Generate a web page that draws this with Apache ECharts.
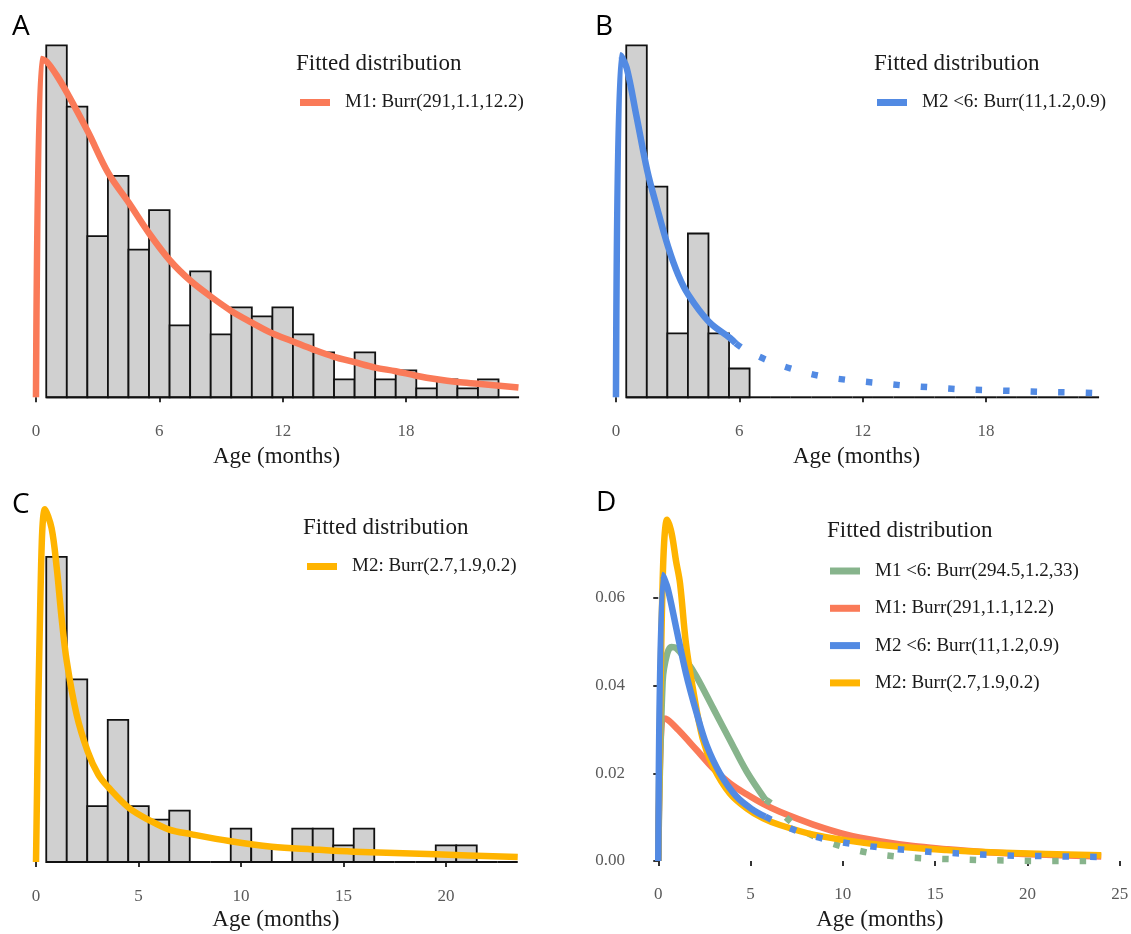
<!DOCTYPE html>
<html>
<head>
<meta charset="utf-8">
<script src="https://cdn.jsdelivr.net/npm/echarts@6/dist/echarts.min.js"></script>
<style>
  html, body { margin: 0; padding: 0; background: #fff; }
  #chart { width: 1131px; height: 934px; }
</style>
</head>
<body>
<div id="chart"></div>
<script>
// histogram bins (months), 1 month wide
const binStart = [0.5, 1.5, 2.5, 3.5, 4.5, 5.5, 6.5, 7.5, 8.5, 9.5, 10.5, 11.5,
  12.5, 13.5, 14.5, 15.5, 16.5, 17.5, 18.5, 19.5, 20.5, 21.5, 22.5];
const binWidth = 1;

// bar heights (relative units, no y axis shown)
const histA = [39.1, 32.3, 17.9, 24.6, 16.4, 20.8, 8.0, 14.0, 7.0, 10.0, 9.0, 10.0,
  7.0, 5.0, 2.0, 5.0, 2.0, 3.0, 1.0, 2.0, 1.0, 2.0, 0];
const histB = [39.1, 23.4, 7.1, 18.2, 7.1, 3.2, 0, 0, 0, 0, 0, 0,
  0, 0, 0, 0, 0, 0, 0, 0, 0, 0, 0];
const histC = [33.9, 20.3, 6.2, 15.8, 6.2, 4.7, 5.7, 0, 0, 3.7, 1.85, 0,
  3.7, 3.7, 1.85, 3.7, 0, 0, 0, 1.85, 1.85, 0, 0];

// fitted curves drawn over the histograms
const ageA = [0, 0.26, 0.52, 1.0, 1.52, 2.53, 3.52, 4.52, 5.51, 6.52, 7.49, 8.5, 9.5, 10.5,
  11.5, 12.5, 13.5, 14.5, 15.5, 16.5, 17.5, 18.5, 19.5, 20.5, 21.5, 23.47];
const fitA = [0, 37.6, 37.3, 35.8, 33.8, 29.5, 24.9, 21.6, 18.2, 15.2, 13.0, 11.2, 9.6, 8.3,
  7.1, 6.2, 5.3, 4.5, 3.9, 3.3, 2.9, 2.4, 2.0, 1.7, 1.5, 1.1];

const ageB = [0, 0.23, 0.52, 1.0, 1.52, 1.98, 2.54, 3.03, 3.52, 4.52, 5.54, 5.82];
const fitB = [0, 38.0, 36.6, 31.2, 25.2, 21.2, 16.7, 13.6, 11.4, 8.4, 6.6, 6.0];
const ageBTail = [5.82, 6.27, 7.49, 8.79, 10.08, 11.38, 12.71, 14.06, 15.38, 16.7, 18.03,
  19.37, 20.73, 22.08, 23.46];
const fitBTail = [6.0, 5.3, 4.0, 3.0, 2.3, 1.9, 1.6, 1.3, 1.1, 0.9, 0.8, 0.7, 0.6, 0.55, 0.45];

const ageC = [0, 0.22, 0.44, 0.76, 1.01, 1.25, 1.5, 1.98, 2.52, 3.04, 3.53, 4.54, 5.56, 6.5,
  7.55, 9.5, 11.5, 13.5, 15.5, 19.5, 23.5];
const fitC = [0, 30.0, 39.2, 37.1, 32.7, 27.1, 22.3, 16.4, 12.3, 9.7, 8.3, 6.0, 4.6, 3.6,
  3.1, 2.3, 1.7, 1.4, 1.15, 0.85, 0.55];

// panel D: densities
const ageM1lt6 = [0, 0.24, 0.48, 0.72, 0.96, 1.5, 2.08, 2.98, 3.88, 4.79, 5.8];
const densM1lt6 = [0, 0.041, 0.0472, 0.0488, 0.0486, 0.0458, 0.042, 0.0348, 0.0276, 0.0204, 0.014];
const ageM1lt6Tail = [5.8, 6.23, 7.4, 8.67, 10.05, 11.5, 12.97, 14.46, 15.98, 17.47, 18.96,
  20.46, 21.94, 23.39, 24];
const densM1lt6Tail = [0.014, 0.0128, 0.0082, 0.0052, 0.0032, 0.0018, 0.001, 0.0006, 0.0004,
  0.0002, 0.0001, 0, 0, 0, 0];

const ageM1 = [0, 0.24, 0.48, 1.08, 2.08, 2.98, 3.88, 4.79, 5.69, 6.59, 8.4, 10.2, 12.0,
  13.8, 15.6, 17.4, 19.2, 21.0, 24];
const densM1 = [0, 0.0325, 0.0323, 0.0299, 0.0253, 0.0211, 0.0177, 0.0152, 0.013, 0.0112,
  0.0083, 0.006, 0.0045, 0.0034, 0.0027, 0.0021, 0.0017, 0.0014, 0.001];

const ageM2lt6 = [0, 0.24, 0.51, 0.96, 1.5, 2.08, 2.62, 3.34, 4.24, 5.15, 5.8];
const densM2lt6 = [0, 0.0652, 0.0622, 0.0534, 0.0428, 0.0337, 0.0264, 0.02, 0.0147, 0.0116, 0.0101];
const ageM2lt6Tail = [5.8, 6.23, 7.59, 9.03, 10.48, 11.97, 13.45, 14.94, 16.43, 17.93, 19.41,
  20.9, 22.38, 24];
const densM2lt6Tail = [0.0101, 0.0092, 0.0067, 0.005, 0.0039, 0.0031, 0.0025, 0.002, 0.0017,
  0.0014, 0.0012, 0.0011, 0.001, 0.0009];

const ageM2 = [0, 0.24, 0.48, 0.72, 0.96, 1.18, 1.5, 1.86, 2.4, 2.98, 3.88, 4.79, 5.69, 6.59,
  8.4, 10.2, 12.0, 13.8, 15.6, 17.4, 19.2, 21.0, 24];
const densM2 = [0, 0.064, 0.0778, 0.0748, 0.0685, 0.0633, 0.0496, 0.0397, 0.028, 0.0215, 0.0154,
  0.012, 0.0097, 0.0082, 0.006, 0.0047, 0.0037, 0.003, 0.0025, 0.0021, 0.0018, 0.0016, 0.0013];

const ticksAB = [0, 6, 12, 18];
const ticksC = [0, 5, 10, 15, 20];
const ticksDx = [0, 5, 10, 15, 20, 25];
const ticksDy = [0, 0.02, 0.04, 0.06];

const nameM1 = 'M1: Burr(291,1.1,12.2)';
const nameM1lt6 = 'M1 <6: Burr(294.5,1.2,33)';
const nameM2lt6 = 'M2 <6: Burr(11,1.2,0.9)';
const nameM2 = 'M2: Burr(2.7,1.9,0.2)';

const RED = '#FA7A58';
const BLUE = '#528AE3';
const GOLD = '#FFB400';
const GREEN = '#87B48C';

const serif = "'Liberation Serif', 'DejaVu Serif', serif";
const sans = "'Open Sans', 'Noto Sans', sans-serif";

const zip = (xs, ys) => xs.map((x, i) => [x, ys[i]]);

// one bin: grey box plus its piece of the baseline (also drawn for empty bins)
function renderBin(params, api) {
  const a = api.coord([api.value(0), 0]);
  const b = api.coord([api.value(1), api.value(2)]);
  const children = [];
  if (api.value(2) > 0) {
    children.push({
      type: 'rect',
      shape: { x: a[0], y: b[1], width: b[0] - a[0], height: a[1] - b[1] },
      style: { fill: '#D0D0D0', stroke: '#111', lineWidth: 1.8 }
    });
  }
  children.push({
    type: 'line',
    shape: { x1: a[0], y1: a[1], x2: b[0], y2: a[1] },
    style: { stroke: '#111', lineWidth: 2 }
  });
  return { type: 'group', children: children };
}

function histSeries(idx, hist) {
  return {
    type: 'custom',
    xAxisIndex: idx, yAxisIndex: idx,
    renderItem: renderBin,
    encode: { x: [0, 1], y: 2 },
    data: binStart.map((s, i) => [s, s + binWidth, hist[i]]),
    silent: true
  };
}

function curve(idx, name, color, xs, ys, dotted) {
  return {
    type: 'line',
    name: name,
    xAxisIndex: idx, yAxisIndex: idx,
    data: zip(xs, ys),
    showSymbol: false,
    smooth: 0.35,
    itemStyle: { color: color },
    lineStyle: {
      color: color, width: 6.5, cap: 'butt', join: 'round',
      type: dotted ? [6.5, 21] : 'solid'
    },
    silent: true
  };
}

function xAxisOf(idx, min, max, ticks, gap) {
  return {
    type: 'value', gridIndex: idx, min: min, max: max,
    name: 'Age (months)', nameLocation: 'middle', nameGap: gap,
    nameTextStyle: { fontFamily: serif, fontSize: 23, color: '#1a1a1a' },
    axisLine: { show: false },
    splitLine: { show: false },
    axisTick: { show: true, length: 5, customValues: ticks, lineStyle: { color: '#333', width: 2 } },
    axisLabel: { customValues: ticks, margin: 8, fontFamily: serif, fontSize: 17, color: '#5a5a5a' }
  };
}

function legendOf(left, top, names) {
  return {
    left: left, top: top, padding: 0, orient: 'vertical',
    icon: 'rect', itemWidth: 30, itemHeight: 7, itemGap: 18.3,
    selectedMode: false,
    textStyle: { fontFamily: serif, fontSize: 19, color: '#1a1a1a', padding: [0, 0, 0, 10] },
    data: names
  };
}

function panelTitle(text, left, top) {
  return { text: text, left: left, top: top, padding: 0,
    textStyle: { fontFamily: sans, fontSize: 28, fontWeight: 'normal', color: '#000' } };
}
function legendTitle(left, top) {
  return { text: 'Fitted distribution', left: left, top: top, padding: 0,
    textStyle: { fontFamily: serif, fontSize: 23, fontWeight: 'normal', color: '#1a1a1a' } };
}

const chart = echarts.init(document.getElementById('chart'), null, { renderer: 'canvas' });

chart.setOption({
  backgroundColor: '#fff',
  animation: false,
  title: [
    panelTitle('A', 12, 13), panelTitle('B', 595, 13),
    panelTitle('C', 12, 491), panelTitle('D', 596, 489),
    legendTitle(296, 52), legendTitle(874, 52),
    legendTitle(303, 516), legendTitle(827, 519)
  ],
  legend: [
    legendOf(300, 93, [nameM1]),
    legendOf(877, 93, [nameM2lt6]),
    legendOf(307, 557, [nameM2]),
    legendOf(830, 561.5, [nameM1lt6, nameM1, nameM2lt6, nameM2])
  ],
  grid: [
    { left: 11.3, top: 28.3, width: 530.4, height: 387, outerBoundsMode: 'none' },
    { left: 591.3, top: 28.3, width: 530.4, height: 387, outerBoundsMode: 'none' },
    { left: 11.4, top: 493, width: 528.9, height: 387, outerBoundsMode: 'none' },
    { left: 636.1, top: 501.4, width: 487.3, height: 377.1, outerBoundsMode: 'none' }
  ],
  xAxis: [
    xAxisOf(0, -1.2, 24.6, ticksAB, 30),
    xAxisOf(1, -1.2, 24.6, ticksAB, 30),
    xAxisOf(2, -1.2, 24.6, ticksC, 28.5),
    xAxisOf(3, -1.2, 25.2, ticksDx, 30)
  ],
  yAxis: [
    { type: 'value', gridIndex: 0, min: -2, max: 41, show: false },
    { type: 'value', gridIndex: 1, min: -2, max: 41, show: false },
    { type: 'value', gridIndex: 2, min: -2, max: 41, show: false },
    {
      type: 'value', gridIndex: 3, min: -0.004, max: 0.082,
      axisLine: { show: false },
      splitLine: { show: false },
      axisTick: { show: true, length: 5, customValues: ticksDy, lineStyle: { color: '#333', width: 2 } },
      axisLabel: {
        customValues: ticksDy, margin: 11, fontFamily: serif, fontSize: 17, color: '#5a5a5a',
        formatter: v => v.toFixed(2)
      }
    }
  ],
  series: [
    histSeries(0, histA),
    curve(0, nameM1, RED, ageA, fitA),

    histSeries(1, histB),
    curve(1, nameM2lt6, BLUE, ageB, fitB),
    curve(1, 'M2 <6 tail', BLUE, ageBTail, fitBTail, true),

    histSeries(2, histC),
    curve(2, nameM2, GOLD, ageC, fitC),

    curve(3, nameM1, RED, ageM1, densM1),
    curve(3, nameM1lt6, GREEN, ageM1lt6, densM1lt6),
    curve(3, 'M1 <6 tail', GREEN, ageM1lt6Tail, densM1lt6Tail, true),
    curve(3, nameM2, GOLD, ageM2, densM2),
    curve(3, nameM2lt6, BLUE, ageM2lt6, densM2lt6),
    curve(3, 'M2 <6 tail', BLUE, ageM2lt6Tail, densM2lt6Tail, true)
  ]
});
</script>
</body>
</html>
